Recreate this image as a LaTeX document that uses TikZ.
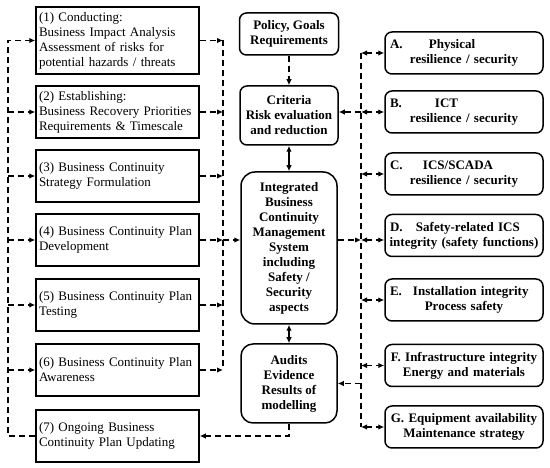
\documentclass[tikz,border=0pt]{standalone}
\usepackage{fontspec}
\setmainfont{Liberation Serif}
\usetikzlibrary{positioning,calc,arrows.meta}

\begin{document}
\begin{tikzpicture}[x=1pt,y=-1pt]
	\tikzset{
		stepbox/.style={
			draw,
			line width=1.5pt,
			minimum width=163pt,
			text width=157pt,
			inner xsep=3pt,
			inner ysep=0pt,
			align=left,
			font=\fontsize{13}{15}\selectfont
		},
		corebox/.style={
			draw,
			line width=1.5pt,
			rounded corners=7pt,
			align=center,
			inner sep=0pt,
			font=\bfseries\fontsize{13}{15}\selectfont
		},
		areabox/.style={
			draw,
			line width=1.5pt,
			rounded corners=7pt,
			minimum width=158pt,
			minimum height=42pt,
			text width=148pt,
			inner xsep=5pt,
			inner ysep=0pt,
			align=center,
			font=\bfseries\fontsize{13}{15}\selectfont
		},
		bus/.style={
			line width=1.2pt,
			dashed,
			dash pattern=on 6pt off 4pt
		},
		link/.style={bus, -{Latex[length=6pt,width=5.5pt]}},
		dlink/.style={bus, {Latex[length=6pt,width=5.5pt]}-{Latex[length=6pt,width=5.5pt]}},
		solidlink/.style={line width=1.2pt, {Latex[length=6pt,width=5.5pt]}-{Latex[length=6pt,width=5.5pt]}}
	}
	\useasboundingbox (0,0) rectangle (550,468);

	% ======= Left column: BCM steps =======
	\node[stepbox, minimum height=67pt] (st1) at (117.5,40.5)
		{(1) Conducting:\\Business Impact Analysis\\Assessment of risks for\\potential hazards / threats};
	\node[stepbox, minimum height=52pt] (st2) at (117.5,112)
		{(2) Establishing:\\Business Recovery Priorities\\Requirements \& Timescale};
	\node[stepbox, minimum height=52pt] (st3) at (117.5,176)
		{(3) Business Continuity\\Strategy Formulation};
	\node[stepbox, minimum height=52pt] (st4) at (117.5,240)
		{(4) Business Continuity Plan\\Development};
	\node[stepbox, minimum height=52pt] (st5) at (117.5,305)
		{(5) Business Continuity Plan\\Testing};
	\node[stepbox, minimum height=52pt] (st6) at (117.5,370)
		{(6) Business Continuity Plan\\Awareness};
	\node[stepbox, minimum height=52pt] (st7) at (117.5,436)
		{(7) Ongoing Business\\Continuity Plan Updating};

	% ======= Centre column =======
	\node[corebox, minimum width=99pt, minimum height=42pt] (pol) at (289,34)
		{Policy, Goals\\Requirements};
	\node[corebox, minimum width=98pt, minimum height=59pt] (crit) at (289,115.5)
		{Criteria\\Risk evaluation\\and reduction};
	\node[corebox, rounded corners=14pt, minimum width=96pt, minimum height=152pt] (ibcms) at (289,248)
		{Integrated\\Business\\Continuity\\Management\\System\\including\\Safety /\\Security\\aspects};
	\node[corebox, rounded corners=12pt, minimum width=96pt, minimum height=79pt] (aud) at (289,383.5)
		{Audits\\Evidence\\Results of\\modelling};

	% ======= Right column: areas A..G =======
	\node[areabox] (rA) at (464,53)
		{\makebox[148pt][l]{\makebox[39pt][l]{A.}Physical}\\resilience / security};
	\node[areabox] (rB) at (464,112)
		{\makebox[148pt][l]{\makebox[45pt][l]{B.}ICT}\\resilience / security};
	\node[areabox] (rC) at (464,174)
		{\makebox[148pt][l]{\makebox[33pt][l]{C.}ICS/SCADA}\\resilience / security};
	\node[areabox] (rD) at (464,235.5)
		{\makebox[148pt][l]{\makebox[26pt][l]{D.}Safety-related ICS}\\\makebox[148pt]{integrity (safety functions)}};
	\node[areabox] (rE) at (464,300)
		{\makebox[148pt][l]{\makebox[23pt][l]{E.}Installation integrity}\\Process safety};
	\node[areabox] (rF) at (464,365.5)
		{\makebox[148pt]{F. Infrastructure integrity}\\Energy and materials};
	\node[areabox] (rG) at (464,427)
		{\makebox[148pt]{G. Equipment availability}\\Maintenance strategy};

	% ======= Left bus: (7) back to the steps =======
	\coordinate (lb) at (8,0);
	\draw[link] (st7.west) -- (lb |- st7.west) |- (st1.west);
	\foreach \i in {2,...,6}
		\draw[link] (lb |- st\i.west) -- (st\i.west);

	% ======= Middle bus: steps into the system =======
	\coordinate (mb) at (223,0);
	\draw[bus] (mb |- st1.east) -- (mb |- st6.east);
	\foreach \i in {1,...,6}
		\draw[link] (st\i.east) -- (mb |- st\i.east);
	\draw[link] (mb |- st4.east) -- (ibcms.west |- st4.east);

	% ======= Centre links =======
	\draw[link] (pol.south) -- (crit.north);
	\draw[solidlink] (crit.south) -- (ibcms.north);
	\draw[solidlink] (ibcms.south) -- (aud.north);
	\draw[link] (aud.south) |- (st7.east);

	% ======= Right bus: areas A..G =======
	\coordinate (rb) at (361,0);
	\draw[bus] (rb |- rA.west) -- (rb |- rG.west);
	\foreach \n in {rA,rB,rC,rE,rF,rG}
		\draw[dlink] (rb |- \n.west) -- (\n.west);
	\draw[dlink] (rb |- st4.east) -- (rD.west |- st4.east);
	\draw[link] (rb |- rB.west) -- (crit.east |- rB.west);
	\draw[link] (ibcms.east |- st4.east) -- (rb |- st4.east);
	\draw[link] (rb |- aud.east) -- (aud.east);
\end{tikzpicture}
\end{document}
